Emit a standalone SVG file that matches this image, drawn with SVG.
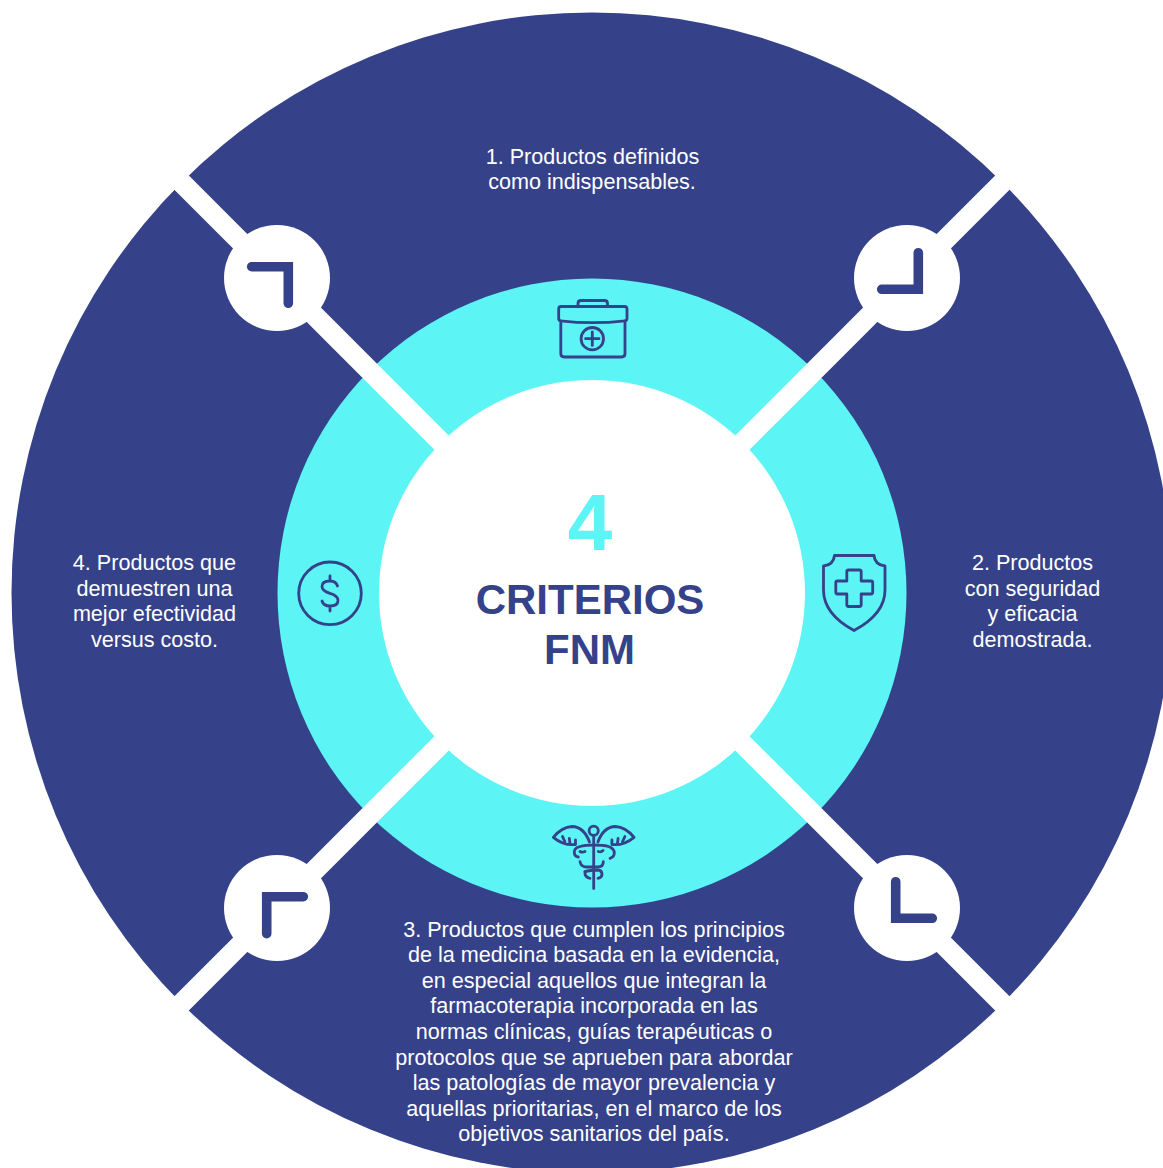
<svg xmlns="http://www.w3.org/2000/svg" width="1163" height="1168" viewBox="0 0 1163 1168">
<style>
.t{font-family:"Liberation Sans",Arial,sans-serif;font-size:21.6px;fill:#fff;text-anchor:middle}
.h{font-family:"Liberation Sans",Arial,sans-serif;font-weight:700;fill:#35428a;text-anchor:middle;font-size:42px}
.i{fill:none;stroke:#35428a;stroke-width:2.8;stroke-linecap:round;stroke-linejoin:round}
.g{fill:none;stroke:#35428a;stroke-width:9.6;stroke-linecap:round;stroke-linejoin:miter}
.band{stroke:#fff;stroke-width:20.3;fill:none}
</style>
<rect width="1163" height="1168" fill="#fff"/>
<g id="outer-ring"><circle cx="592" cy="593" r="580.5" fill="#35428a"/></g>
<g id="middle-ring"><circle cx="592" cy="593" r="314.5" fill="#5cf4f4"/></g>
<g id="connectors">
<path class="band" d="M142 143L1042 1043M1042 143L142 1043"/>
</g>
<g id="center">
<circle cx="592" cy="593" r="213" fill="#fff"/>
<text x="590" y="550" text-anchor="middle" font-family="'Liberation Sans',Arial,sans-serif" font-weight="700" font-size="80" fill="#5cf4f4">4</text>
<text class="h" x="590" y="614">CRITERIOS</text>
<text class="h" x="589.5" y="664">FNM</text>
</g>
<g id="corner-top-left"><circle cx="277" cy="278" r="53" fill="#fff"/><path class="g" d="M251.7 266.7H288.3V303.3"/></g>
<g id="corner-top-right"><circle cx="907" cy="278" r="53" fill="#fff"/><path class="g" d="M918.3 252.7V289.3H881.7"/></g>
<g id="corner-bottom-right"><circle cx="907" cy="908" r="53" fill="#fff"/><path class="g" d="M895.7 881.7V918.3H932.3"/></g>
<g id="corner-bottom-left"><circle cx="277" cy="908" r="53" fill="#fff"/><path class="g" d="M303.3 896.7H266.7V933.7"/></g>
<g id="criterion-1">
<text class="t" x="592.5" y="164">1. Productos definidos</text>
<text class="t" x="592" y="189">como indispensables.</text>
<g id="icon-kit" class="i">
<path d="M578 306V303.5Q578 300.5 581 300.5H604.5Q607.5 300.5 607.5 303.5V306"/>
<path d="M561 306.5H624.5Q627 306.5 627 309V318.5Q627 320.5 625 320.8Q592.5 324.5 560.5 320.8Q558.7 320.5 558.7 318.5V309Q558.7 306.5 561 306.5Z"/>
<path d="M560.8 321V353.5Q560.8 357 564.3 357H621.5Q625 357 625 353.5V321"/>
<circle cx="592.3" cy="338.7" r="11.2"/>
<path d="M592.3 332V345.4M585.6 338.7H599"/>
</g>
</g>
<g id="criterion-2">
<text class="t" x="1032.5" y="570">2. Productos</text>
<text class="t" x="1032.5" y="596">con seguridad</text>
<text class="t" x="1032.5" y="621">y eficacia</text>
<text class="t" x="1032.5" y="647">demostrada.</text>
<g id="icon-shield" class="i">
<path d="M834.5 555.5H874Q875 565 885 566V590Q885 614 854 630.5Q823.5 614 823.5 590V566Q833.5 565 834.5 555.5Z"/>
<path d="M848.5 570H859.5Q861.2 570 861.2 571.7V581H871Q872.7 581 872.7 582.7V592.3Q872.7 594 871 594H861.2V604.8Q861.2 606.5 859.5 606.5H848.5Q846.8 606.5 846.8 604.8V594H837.5Q835.8 594 835.8 592.3V582.7Q835.8 581 837.5 581H846.8V571.7Q846.8 570 848.5 570Z"/>
</g>
</g>
<g id="criterion-3">
<text class="t" x="594" y="937">3. Productos que cumplen los principios</text>
<text class="t" x="594" y="962">de la medicina basada en la evidencia,</text>
<text class="t" x="594" y="988">en especial aquellos que integran la</text>
<text class="t" x="594" y="1013">farmacoterapia incorporada en las</text>
<text class="t" x="594" y="1039">normas clínicas, guías terapéuticas o</text>
<text class="t" x="594" y="1065">protocolos que se aprueben para abordar</text>
<text class="t" x="594" y="1090">las patologías de mayor prevalencia y</text>
<text class="t" x="594" y="1116">aquellas prioritarias, en el marco de los</text>
<text class="t" x="594" y="1141">objetivos sanitarios del país.</text>
<g id="icon-caduceus" class="i">
<circle cx="593.7" cy="830.7" r="4.6"/>
<path d="M593.7 836V888.5"/>
<path d="M589.5 842Q584 827 572 826.5Q562 827 553.3 837.3Q564 846 575.5 844.5V840M570 843.5L569.3 838.5M565 842L562.5 836.5"/>
<path d="M597.9 842Q603.4 827 615.4 826.5Q625.4 827 634.1 837.3Q623.4 846 611.9 844.5V840M617.4 843.5L618.1 838.5M622.4 842L624.9 836.5"/>
<path d="M593.7 845Q585 845 580 846.5Q574.3 848 574.3 852Q574.3 856.5 578.3 857M585 851.5Q582 852.8 580 851.5"/>
<path d="M593.7 845Q603 845 608.5 846.5Q614.3 848.5 614.3 853Q614.3 857 610 858.3M598.3 851.5Q601 852.5 603 850.5"/>
<path d="M580 861.7Q581 866.5 586 867H598Q603.5 866.5 603.3 861.7"/>
<path d="M585 871.7Q590 870 598 870Q602 870.5 602 874.5Q602 877.5 598 878.3"/>
<path d="M585 871.7Q584.5 877.5 590 878.3"/>
</g>
</g>
<g id="criterion-4">
<text class="t" x="154.5" y="570">4. Productos que</text>
<text class="t" x="154.5" y="596">demuestren una</text>
<text class="t" x="154.5" y="621">mejor efectividad</text>
<text class="t" x="154.5" y="647">versus costo.</text>
<g id="icon-dollar" class="i">
<circle cx="330" cy="593.3" r="31.3"/>
<path d="M337.5 586Q336 581 330 581Q322 581 322 586.5Q322 591 330 593.3Q338 595.5 338 600.5Q338 606 330 606Q323.5 606 322 601M330 576V581M330 606V611"/>
</g>
</g>
</svg>
